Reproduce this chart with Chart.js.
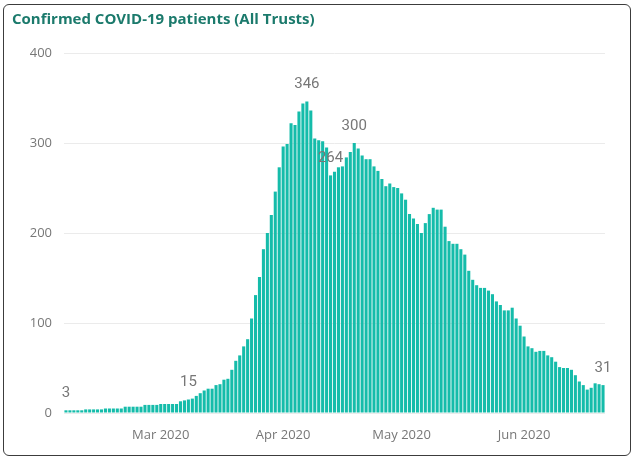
<!DOCTYPE html>
<html>
<head>
<meta charset="utf-8">
<script src="https://cdn.jsdelivr.net/npm/chart.js@4.4.1/dist/chart.umd.min.js"></script>
<style>
    body { margin: 0; background: #fff; }
    #wrap { position: absolute; left: 0; top: 0; width: 639px; height: 459px; }
    #frame {
        position: absolute; left: 3px; top: 4px; width: 626px; height: 450px;
        border: 1.5px solid #3c3c3c; border-radius: 6px; pointer-events: none;
    }
</style>
</head>
<body>
<div id="wrap">
    <canvas id="myChart"></canvas>
    <div id="frame"></div>
</div>
<script>
// daily confirmed patients, from 6 Feb 2020
const startDate = [2020, 1, 6];
const dayValues = [
    3, 3, 3, 3, 3, 4, 4, 4, 4, 4, 5, 5, 5, 5, 5, 7, 7, 7, 7, 7,
    9, 9, 9, 9, 10, 10, 10, 10, 10, 13, 14, 15, 16, 19, 22, 25, 27, 27, 31, 32,
    37, 38, 48, 58, 64, 74, 82, 105, 131, 151, 182, 200, 220, 246, 273, 296, 299, 322, 320, 335,
    344, 346, 336, 305, 303, 302, 295, 264, 268, 273, 274, 284, 290, 300, 294, 286, 282, 282, 274, 269,
    260, 252, 255, 251, 250, 244, 237, 221, 216, 210, 200, 211, 221, 228, 226, 226, 207, 191, 188, 188,
    182, 176, 158, 148, 142, 139, 139, 136, 132, 124, 120, 114, 114, 117, 105, 97, 85, 74, 72, 68,
    69, 69, 64, 62, 57, 51, 50, 50, 48, 42, 35, 31, 26, 28, 33, 32, 31
];
const labelledDays = [0, 31, 61, 67, 73, 136];
const tickDates = ['2020-03-01', '2020-04-01', '2020-05-01', '2020-06-01'];
const tickLabels = ['Mar 2020', 'Apr 2020', 'May 2020', 'Jun 2020'];
const yTicks = [0, 100, 200, 300, 400];

const days = dayValues.map((v, i) => {
    const d = new Date(Date.UTC(startDate[0], startDate[1], startDate[2] + i));
    return d.toISOString().slice(0, 10);
});

const fontFamily = "'Segoe UI', 'Open Sans', sans-serif";

// draws the value labels above the chosen bars
const valueLabels = {
    id: 'valueLabels',
    afterDatasetsDraw(chart) {
        const ctx = chart.ctx;
        const meta = chart.getDatasetMeta(0);
        ctx.save();
        ctx.font = "15px Roboto, 'DejaVu Sans', sans-serif";
        ctx.fillStyle = '#777';
        ctx.textAlign = 'center';
        ctx.textBaseline = 'middle';
        labelledDays.forEach(i => {
            const bar = meta.data[i];
            ctx.fillText(String(dayValues[i]), bar.x, bar.y - 17);
        });
        ctx.restore();
    }
};

const ctx = document.getElementById('myChart').getContext('2d');
new Chart(ctx, {
    type: 'bar',
    data: {
        labels: days,
        datasets: [{
            label: 'Confirmed COVID-19 patients',
            data: dayValues,
            backgroundColor: '#15bcaa',
            barPercentage: 0.78,
            categoryPercentage: 1
        }]
    },
    options: {
        responsive: true,
        maintainAspectRatio: false,
        animation: false,
        layout: { padding: { top: 11, left: 12, right: 34, bottom: 16 } },
        plugins: {
            legend: { display: false },
            tooltip: { enabled: false },
            title: {
                display: true,
                text: 'Confirmed COVID-19 patients (All Trusts)',
                align: 'start',
                color: '#1b7a6c',
                font: { family: fontFamily, size: 15, weight: 'bold' },
                padding: { top: 0, bottom: 24 }
            }
        },
        scales: {
            x: {
                grid: { display: false },
                border: { display: false },
                ticks: {
                    autoSkip: false,
                    maxRotation: 0,
                    padding: 6,
                    color: '#777',
                    font: { family: fontFamily, size: 13 },
                    callback: function (value, index) {
                        const k = tickDates.indexOf(days[index]);
                        return k >= 0 ? tickLabels[k] : '';
                    }
                },
                afterFit: (scale) => { scale.height = 30; }
            },
            y: {
                min: yTicks[0],
                max: yTicks[yTicks.length - 1],
                grid: { color: '#ebebeb', drawTicks: false },
                border: { display: false },
                ticks: {
                    stepSize: 100,
                    padding: 12,
                    color: '#777',
                    font: { family: fontFamily, size: 13 }
                },
                afterFit: (scale) => { scale.width = 52; }
            }
        }
    },
    plugins: [valueLabels]
});
</script>
</body>
</html>
